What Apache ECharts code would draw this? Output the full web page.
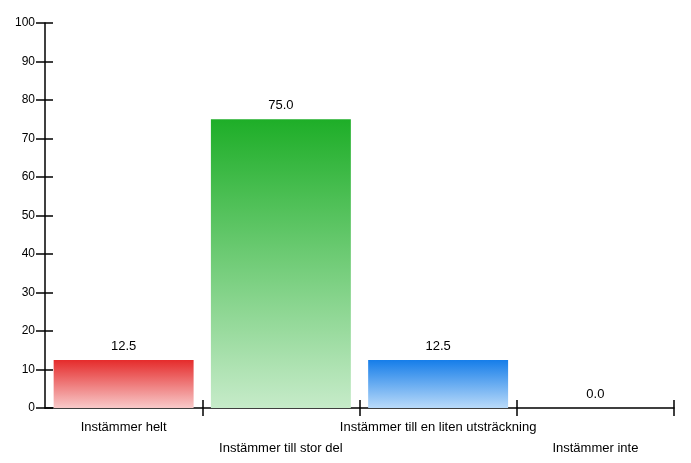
<!DOCTYPE html>
<html><head><meta charset="utf-8">
<script src="https://cdn.jsdelivr.net/npm/echarts@6/dist/echarts.min.js"></script>
<style>html,body{margin:0;padding:0;background:#fff}#c{width:691px;height:463px}</style>
</head><body><div id="c"></div>
<script>
var categories = ['Instämmer helt', 'Instämmer till stor del', 'Instämmer till en liten utsträckning', 'Instämmer inte'];
var values = [12.5, 75.0, 12.5, 0.0];
var topColors = ['#e52b2b', '#1eae28', '#157de9'];
var bottomColors = ['#f8c9c9', '#c6ebc9', '#b9daf9'];
var yTicks = [0, 10, 20, 30, 40, 50, 60, 70, 80, 90, 100];

var chart = echarts.init(document.getElementById('c'), null, {renderer: 'canvas'});
var font = 'Arial, "Liberation Sans", sans-serif';
var data = values.map(function (v, i) {
  var t = topColors[i % topColors.length], b = bottomColors[i % bottomColors.length];
  return {value: v, itemStyle: {color: new echarts.graphic.LinearGradient(0, 0, 0, 1, [{offset: 0, color: t}, {offset: 1, color: b}])}};
});
function xTickAxis(inside) {
  return {
    type: 'value', min: 0, max: 4, position: 'bottom', offset: 0,
    axisLine: {show: false}, axisLabel: {show: false}, splitLine: {show: false},
    axisTick: {show: true, inside: inside, length: 8, customValues: [1, 2, 3, 4], lineStyle: {color: '#000', width: 1.5}}
  };
}
function yTickAxis(inside, len) {
  return {
    type: 'value', min: 0, max: 100, interval: 10, position: 'left', offset: 0,
    axisLine: {show: false}, axisLabel: {show: false}, splitLine: {show: false},
    axisTick: {show: true, inside: inside, length: len, lineStyle: {color: '#000', width: 1.5}}
  };
}
chart.setOption({
  animation: false,
  grid: {left: 45, right: 17, top: 23, bottom: 55, containLabel: false},
  xAxis: [{
    type: 'category', data: categories, boundaryGap: true,
    axisLine: {lineStyle: {color: '#000', width: 1.5}},
    axisTick: {show: false},
    axisLabel: {
      interval: 0, margin: 9, color: '#000', fontFamily: font, fontSize: 13, lineHeight: 21,
      formatter: function (v, i) { return i % 2 === 1 ? '\n' + v : v; }
    }
  }, xTickAxis(true), xTickAxis(false)],
  yAxis: [{
    type: 'value', min: 0, max: 100, interval: 10,
    axisLine: {show: true, lineStyle: {color: '#000', width: 1.5}},
    axisTick: {show: false},
    splitLine: {show: false},
    axisLabel: {margin: 10, color: '#000', fontFamily: font, fontSize: 12,
      formatter: function (v) { return yTicks.indexOf(v) >= 0 ? String(v) : ''; }}
  }, yTickAxis(true, 8), yTickAxis(false, 9)],
  series: [{
    type: 'bar', data: data, xAxisIndex: 0, yAxisIndex: 0,
    barCategoryGap: '11%',
    label: {show: true, position: 'top', distance: 7, color: '#000', fontFamily: font, fontSize: 13,
      formatter: function (p) { return Number(p.value).toFixed(1); }}
  }]
});
</script></body></html>
